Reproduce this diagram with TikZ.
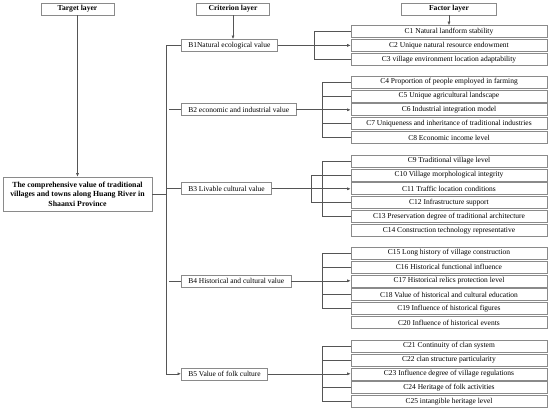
\documentclass[tikz,border=0pt]{standalone}
\usepackage{fontspec}
\setmainfont{Liberation Serif}
\usepackage{tikz}
\usetikzlibrary{arrows.meta}
\definecolor{boxgray}{HTML}{8A8A8A}
\definecolor{linegray}{HTML}{555555}

\begin{document}
\begin{tikzpicture}[x=1pt,y=-1pt,
        box/.style={draw=boxgray,line width=0.6pt,rectangle,inner xsep=5pt,inner ysep=0pt,
            minimum height=12pt,font=\fontsize{7.5}{9}\selectfont},
        head/.style={box,minimum width=73pt,font=\fontsize{7.6}{9}\selectfont\bfseries},
        fbox/.style={box,minimum width=196pt},
        link/.style={draw=linegray,line width=0.6pt},
        arr/.style={link,-{Latex[length=3.5pt,width=3pt]}}]
        \useasboundingbox (0,0) rectangle (550,412);
        % headers
        \node[head] (hdrT) at (77.5,9) {Target layer};
        \node[head] (hdrB) at (233,9) {Criterion layer};
        \node[head,minimum width=95pt] (hdrC) at (449,9) {Factor layer};
        % target
        \node[box,minimum width=149pt,minimum height=34pt,align=center,
            font=\fontsize{7.8}{9.6}\selectfont\bfseries] (goal) at (77.5,194)
            {The comprehensive value of traditional\\villages and towns along Huang River in\\Shaanxi Province};
        % criteria
        \foreach \n/\y/\t in {1/45.4/{B1Natural ecological value},
                2/109.8/{B2 economic and industrial value},
                3/188.8/{B3 Livable cultural value},
                4/280.8/{B4 Historical and cultural value},
                5/373.8/{B5 Value of folk culture}} {
            \node[box,anchor=west,inner xsep=7pt] (b\n) at (181,\y) {\t};
        }
        % factors
        \foreach \n/\y/\t in {1/31.5/{C1 Natural landform stability},
                2/45.4/{C2 Unique natural resource endowment},
                3/59.3/{C3 village environment location adaptability},
                4/82/{C4 Proportion of people employed in farming},
                5/95.9/{C5 Unique agricultural landscape},
                6/109.8/{C6 Industrial integration model},
                7/123.7/{C7 Uniqueness and inheritance of traditional industries},
                8/137.6/{C8 Economic income level},
                9/161/{C9 Traditional village level},
                10/174.9/{C10 Village morphological integrity},
                11/188.8/{C11 Traffic location conditions},
                12/202.7/{C12 Infrastructure support},
                13/216.6/{C13 Preservation degree of traditional architecture},
                14/230.5/{C14 Construction technology representative},
                15/253/{C15 Long history of village construction},
                16/266.9/{C16 Historical functional influence},
                17/280.8/{C17 Historical relics protection level},
                18/294.7/{C18 Value of historical and cultural education},
                19/308.6/{C19 Influence of historical figures},
                20/322.5/{C20 Influence of historical events},
                21/346/{C21 Continuity of clan system},
                22/359.9/{C22 clan structure particularity},
                23/373.8/{C23 Influence degree of village regulations},
                24/387.7/{C24 Heritage of folk activities},
                25/401.6/{C25 intangible heritage level}} {
            \node[fbox] (c\n) at (449,\y) {\t};
        }
        \coordinate (bus) at (166,0);
        \coordinate (brk) at (322,0);
        % header arrows
        \draw[arr] (hdrT.south) -- (goal.north);
        \draw[arr] (hdrB.south) -- (hdrB.south |- b1.north);
        \draw[arr] (hdrC.south) -- (c1.north);
        % target to criteria
        \draw[link] (goal.east) -- (goal.east -| bus);
        \draw[arr] (b1.west) -- (b1.west -| bus) |- (b5.west);
        \draw[link] (b3.west -| bus) -- (b3.west);
        \draw[link] ([xshift=-12pt]b2.west) -- (b2.west);
        \draw[link] ([xshift=-12pt]b4.west) -- (b4.west);
        % criteria to factors
        \draw[arr] (b1.east) -- (c2.west);
        \draw[arr] (b2.east) -- (c6.west);
        \draw[arr] (b3.east) -- (c11.west);
        \draw[arr] (b4.east) -- (c17.west);
        \draw[arr] (b5.east) -- (c23.west);
        % brackets
        \draw[link] (c1.west) -- ++(-36,0) |- (c3.west);
        \draw[link] (c4.west) -- (c4.west -| brk) |- (c8.west);
        \draw[link] (c5.west -| brk) -- (c5.west);
        \draw[link] (c7.west -| brk) -- (c7.west);
        \draw[link] (c9.west) -- (c9.west -| brk) |- (c13.west);
        \draw[link] (c10.west) -- ++(-39,0) |- (c12.west);
        \draw[link] (c15.west) -- (c15.west -| brk) |- (c19.west);
        \draw[link] (c16.west -| brk) -- (c16.west);
        \draw[link] (c18.west -| brk) -- (c18.west);
        \draw[link] (c21.west) -- (c21.west -| brk) |- (c25.west);
        \draw[link] (c22.west -| brk) -- (c22.west);
        \draw[link] (c24.west -| brk) -- (c24.west);
\end{tikzpicture}
\end{document}
